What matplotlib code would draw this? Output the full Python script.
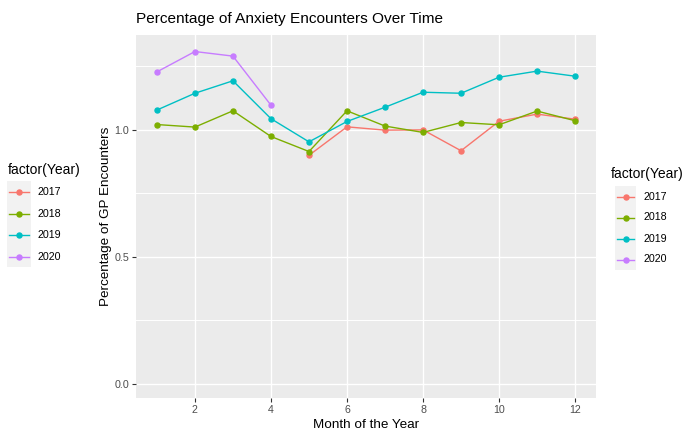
import matplotlib
matplotlib.use("Agg")
import matplotlib.pyplot as plt
from matplotlib.lines import Line2D
from matplotlib.patches import Rectangle

plt.rcParams['font.family'] = ['Liberation Sans', 'DejaVu Sans']

years = ["2017", "2018", "2019", "2020"]
colors = ["#F8766D", "#7CAE00", "#00BFC4", "#C77CFF"]

months_2017 = [5, 6, 7, 8, 9, 10, 11, 12]
vals_2017 = [0.899, 1.011, 0.998, 0.999, 0.917, 1.033, 1.061, 1.041]
months_2018 = [1, 2, 3, 4, 5, 6, 7, 8, 9, 10, 11, 12]
vals_2018 = [1.020, 1.010, 1.074, 0.973, 0.914, 1.074, 1.014, 0.989, 1.028, 1.019, 1.073, 1.035]
months_2019 = [1, 2, 3, 4, 5, 6, 7, 8, 9, 10, 11, 12]
vals_2019 = [1.077, 1.143, 1.192, 1.043, 0.952, 1.032, 1.088, 1.147, 1.143, 1.206, 1.230, 1.210]
months_2020 = [1, 2, 3, 4]
vals_2020 = [1.227, 1.307, 1.289, 1.096]

series = [(months_2017, vals_2017), (months_2018, vals_2018),
          (months_2019, vals_2019), (months_2020, vals_2020)]

x_ticks = [2, 4, 6, 8, 10, 12]
y_ticks = [0.0, 0.5, 1.0]
y_minor = [0.25, 0.75, 1.25]

W, H = 686, 432
fig = plt.figure(figsize=(W / 100, H / 100), dpi=100)

def fx(px):
    return px / W

def fy(py):
    return 1 - py / H

left, right, top, bottom = 136, 596, 35, 398
ax = fig.add_axes([fx(left), fy(bottom), (right - left) / W, (bottom - top) / H])
ax.set_facecolor("#EBEBEB")
for s in ax.spines.values():
    s.set_visible(False)

for (m, v), c in zip(series, colors):
    ax.plot(m, v, color=c, lw=1.0, marker="o", ms=3.6, zorder=3)

ax.set_xlim(0.45, 12.55)
ax.set_ylim(-0.055, 1.372)
ax.set_xticks(x_ticks)
ax.set_xticklabels([str(t) for t in x_ticks])
ax.set_yticks(y_ticks)
ax.set_yticklabels(["0.0", "0.5", "1.0"])
ax.set_yticks(y_minor, minor=True)
ax.tick_params(axis="both", which="major", length=3, width=0.8, color="#333333",
               labelsize=7.7, labelcolor="#4D4D4D", pad=2)
ax.tick_params(axis="y", which="minor", length=0)
ax.grid(True, which="major", color="white", lw=1.0, zorder=0)
ax.grid(True, which="minor", axis="y", color="white", lw=0.7, zorder=0)
ax.set_axisbelow(True)

ax.set_xlabel("Month of the Year", fontsize=9.7, color="black", labelpad=3)
ax.set_ylabel("Percentage of GP Encounters", fontsize=9.7, color="black", labelpad=2)
fig.text(fx(136), fy(19), "Percentage of Anxiety Encounters Over Time",
         fontsize=11.1, ha="left", va="center")

def legend(title_x, title_y, key_x0, key_x1, rows_y, label_x):
    fig.text(fx(title_x), fy(title_y), "factor(Year)", fontsize=10, ha="left", va="center")
    step = rows_y[1] - rows_y[0]
    fig.patches.append(Rectangle((fx(key_x0), fy(rows_y[-1] + step / 2)),
                                 (key_x1 - key_x0) / W, (rows_y[-1] - rows_y[0] + step) / H,
                                 transform=fig.transFigure, facecolor="#F2F2F2",
                                 edgecolor="none", zorder=0))
    for yr, c, ry in zip(years, colors, rows_y):
        fig.lines.append(Line2D([fx(key_x0 + 2), fx(key_x1 - 2)], [fy(ry), fy(ry)],
                                transform=fig.transFigure, color=c, lw=1.0))
        fig.lines.append(Line2D([fx((key_x0 + key_x1) / 2)], [fy(ry)],
                                transform=fig.transFigure, color=c, marker="o", ms=3.6, lw=0))
        fig.text(fx(label_x), fy(ry), yr, fontsize=7.7, ha="left", va="center")

legend(8, 170, 7, 31, [192, 213.5, 235, 256.5], 37)
legend(611, 174, 615, 636, [196.5, 217.5, 238.5, 259.5], 643)

fig.savefig("out.png", dpi=100)
